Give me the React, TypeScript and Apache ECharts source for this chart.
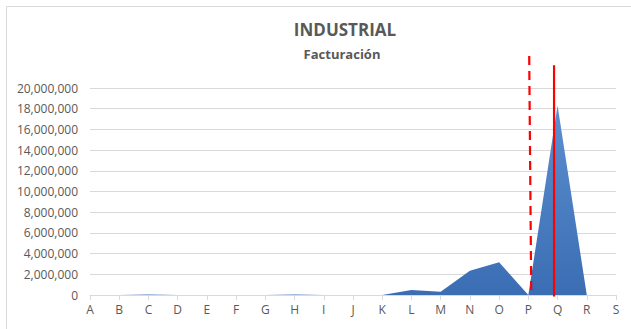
import React, { useEffect, useRef } from "react";
import * as echarts from "echarts";

const categories = ["A","B","C","D","E","F","G","H","I","J","K","L","M","N","O","P","Q","R","S"];
const facturacion: (number | null)[] = [0, 0, 60000, 0, 0, 0, 0, 60000, 0, 0, 0, 480000, 320000, 2350000, 3160000, 0, 18300000, 0, null];
const yTicks = [0, 2000000, 4000000, 6000000, 8000000, 10000000, 12000000, 14000000, 16000000, 18000000, 20000000];
// annotation lines, in data units: x = category index, y = value
const dashedLine = { xTop: 15.03, xBottom: 15.1, yTop: 23100000, yBottom: 0 };
const solidLine = { xTop: 15.88, xBottom: 15.88, yTop: 22200000, yBottom: -150000 };

const fmt = (v: number) => v.toLocaleString("en-US");

export default function App() {
  const ref = useRef<HTMLDivElement>(null);
  useEffect(() => {
    document.body.style.margin = "0";
    const chart = echarts.init(ref.current!, undefined, { renderer: "svg" });
    const font = "'Open Sans', 'Noto Sans', sans-serif";
    chart.setOption({
      animation: false,
      backgroundColor: "#ffffff",
      textStyle: { fontFamily: font },
      grid: { left: 90, right: 15, top: 88, bottom: 34, containLabel: false },
      xAxis: {
        type: "value",
        min: 0,
        max: categories.length - 1,
        interval: 1,
        axisLine: { show: true, onZero: false, lineStyle: { color: "#d9d9d9" } },
        axisTick: { show: true, length: 5, lineStyle: { color: "#d9d9d9" } },
        splitLine: { show: false },
        axisLabel: { color: "#595959", fontSize: 12, margin: 8, fontFamily: font, formatter: (v: number) => categories[Math.round(v)] ?? "" },
      },
      yAxis: {
        type: "value",
        min: yTicks[0],
        max: yTicks[yTicks.length - 1],
        interval: yTicks[1] - yTicks[0],
        axisLine: { show: false },
        axisTick: { show: false },
        splitLine: { lineStyle: { color: "#d9d9d9", width: 1 } },
        axisLabel: { color: "#595959", fontSize: 12, margin: 12, fontFamily: font, formatter: (v: number) => fmt(v) },
      },
      series: [
        {
          type: "line",
          data: facturacion.map((v, i) => [i, v]),
          symbol: "none",
          lineStyle: { width: 0 },
          areaStyle: {
            opacity: 1,
            color: new echarts.graphic.LinearGradient(0, 0, 0, 1, [
              { offset: 0, color: "#5d8fd0" },
              { offset: 1, color: "#3a6db3" },
            ]),
          },
        },
      ],
    });
    const px = (x: number, y: number) => chart.convertToPixel({ gridIndex: 0 }, [x, y]) as number[];
    const dTop = px(dashedLine.xTop, dashedLine.yTop);
    const dBot = px(dashedLine.xBottom, dashedLine.yBottom);
    const sTop = px(solidLine.xTop, solidLine.yTop);
    const sBot = px(solidLine.xBottom, solidLine.yBottom);
    chart.setOption({
      graphic: [
        { type: "rect", shape: { x: 6.5, y: 6.5, width: 640, height: 340 }, style: { fill: "none", stroke: "#d9d9d9", lineWidth: 1 }, silent: true },
        { type: "text", x: 345, y: 21, style: { text: "INDUSTRIAL", fontSize: 17, fontWeight: "bold", fill: "#595959", fontFamily: font, textAlign: "center", textVerticalAlign: "top" } },
        { type: "text", x: 342, y: 47, style: { text: "Facturación", fontSize: 13, fontWeight: "bold", fill: "#595959", fontFamily: font, textAlign: "center", textVerticalAlign: "top" } },
        { type: "line", shape: { x1: dTop[0], y1: dTop[1], x2: dBot[0], y2: dBot[1] }, style: { stroke: "#ff0000", lineWidth: 2.2, lineDash: [9, 6] }, z: 10, silent: true },
        { type: "line", shape: { x1: sTop[0], y1: sTop[1], x2: sBot[0], y2: sBot[1] }, style: { stroke: "#ff0000", lineWidth: 2.2 }, z: 10, silent: true },
      ],
    });
    return () => chart.dispose();
  }, []);
  return <div ref={ref} style={{ width: 631, height: 329 }} />;
}
